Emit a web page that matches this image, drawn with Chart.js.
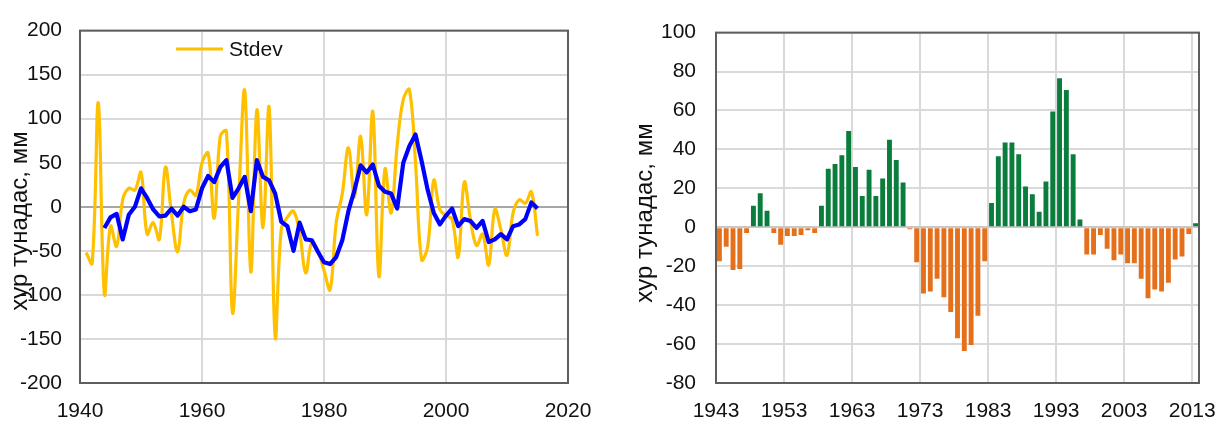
<!DOCTYPE html>
<html lang="mn">
<head>
<meta charset="utf-8">
<title>Хур тунадас</title>
<script src="https://cdn.jsdelivr.net/npm/chart.js@4.4.1/dist/chart.umd.min.js"></script>
<style>
  html, body { margin: 0; padding: 0; background: #ffffff; }
  #wrap { position: relative; width: 1223px; height: 421px; overflow: hidden; }
  #left { position: absolute; left: 0; top: 0; }
  #right { position: absolute; left: 600px; top: 0; }
</style>
</head>
<body>
<div id="wrap">
  <canvas id="left" width="600" height="421"></canvas>
  <canvas id="right" width="623" height="421"></canvas>
</div>
<script>
// ---- Left panel: annual anomaly (Stdev) and its running mean ----
const stdevYears = [
  1941, 1942, 1943, 1944, 1945, 1946, 1947, 1948, 1949, 1950,
  1951, 1952, 1953, 1954, 1955, 1956, 1957, 1958, 1959, 1960,
  1961, 1962, 1963, 1964, 1965, 1966, 1967, 1968, 1969, 1970,
  1971, 1972, 1973, 1974, 1975, 1976, 1977, 1978, 1979, 1980,
  1981, 1982, 1983, 1984, 1985, 1986, 1987, 1988, 1989, 1990,
  1991, 1992, 1993, 1994, 1995, 1996, 1997, 1998, 1999, 2000,
  2001, 2002, 2003, 2004, 2005, 2006, 2007, 2008, 2009, 2010,
  2011, 2012, 2013, 2014, 2015
];
const stdevValues = [
  -52, -64, 118, -99, -22, -45, 8, 21, 19, 39,
  -31, -18, -37, 45, -8, -51, 4, 19, 13, 50,
  61, -13, 80, 86, -120, 8, 132, -74, 110, -24,
  113, -148, -25, -12, -5, -29, -75, -40, -50, -72,
  -94, -18, 15, 67, 11, 80, -9, 108, -79, 43,
  -7, 70, 122, 133, 50, -60, -45, 30, -3, -10,
  -14, -57, 28, -14, -44, -31, -66, -3, -26, -55,
  -7, 8, 4, 17, -33
];
const meanYears = [
  1944, 1945, 1946, 1947, 1948, 1949, 1950, 1951, 1952, 1953,
  1954, 1955, 1956, 1957, 1958, 1959, 1960, 1961, 1962, 1963,
  1964, 1965, 1966, 1967, 1968, 1969, 1970, 1971, 1972, 1973,
  1974, 1975, 1976, 1977, 1978, 1979, 1980, 1981, 1982, 1983,
  1984, 1985, 1986, 1987, 1988, 1989, 1990, 1991, 1992, 1993,
  1994, 1995, 1996, 1997, 1998, 1999, 2000, 2001, 2002, 2003,
  2004, 2005, 2006, 2007, 2008, 2009, 2010, 2011, 2012, 2013,
  2014, 2015
];
const meanValues = [
  -24, -12, -8, -37, -9, 0, 21, 10, -3, -11,
  -10, -2, -10, 0, -5, -3, 21, 35, 28, 45,
  53, 10, 21, 34, -5, 53, 34, 30, 15, -17,
  -22, -50, -18, -37, -38, -51, -63, -65, -57, -38,
  -5, 19, 47, 39, 48, 24, 17, 15, -2, 50,
  69, 82, 52, 19, -7, -20, -10, -2, -22, -14,
  -16, -24, -16, -40, -37, -31, -37, -22, -20, -14,
  5, -2
];
const leftXTicks = [1940, 1960, 1980, 2000, 2020];
const leftYTicks = [-200, -150, -100, -50, 0, 50, 100, 150, 200];

// ---- Right panel: yearly bars ----
const barYears = [
  1943, 1944, 1945, 1946, 1947, 1948, 1949, 1950, 1951, 1952,
  1953, 1954, 1955, 1956, 1957, 1958, 1959, 1960, 1961, 1962,
  1963, 1964, 1965, 1966, 1967, 1968, 1969, 1970, 1971, 1972,
  1973, 1974, 1975, 1976, 1977, 1978, 1979, 1980, 1981, 1982,
  1983, 1984, 1985, 1986, 1987, 1988, 1989, 1990, 1991, 1992,
  1993, 1994, 1995, 1996, 1997, 1998, 1999, 2000, 2001, 2002,
  2003, 2004, 2005, 2006, 2007, 2008, 2009, 2010, 2011, 2012,
  2013
];
const barValues = [
  -17.5, -10, -22, -21.5, -3, 11, 17.5, 8.5, -3, -9,
  -4.5, -4.5, -4, -1.5, -3, 11, 30, 32.5, 37, 49.5,
  31, 16, 29.5, 16, 25, 45, 34.5, 23, -1, -18,
  -34, -33, -26.5, -36, -43.5, -57, -63.5, -60.5, -45.5, -17.5,
  12.5, 36.5, 43.5, 43.5, 37.5, 21, 17, 8, 23.5, 59.5,
  76.5, 70.5, 37.5, 4, -14, -14, -4, -11, -17, -14,
  -18.5, -18.5, -26.5, -36.5, -32, -33, -28.5, -16.5, -15, -3.5,
  2
];
const rightXTicks = [1943, 1953, 1963, 1973, 1983, 1993, 2003, 2013];
const rightYTicks = [-80, -60, -40, -20, 0, 20, 40, 60, 80, 100];

const axisTitle = 'хур тунадас, мм';
const legendLabel = 'Stdev';

const FONT = "'Liberation Sans', Arial, Helvetica, sans-serif";
const TEXT = '#111111';
const GRID = '#d9d9d9';
const FRAME = '#5e5e5e';
const YELLOW = '#ffc000';
const BLUE = '#0000ff';
const GREEN = '#0a7d3c';
const ORANGE = '#e5701c';

Chart.defaults.font.family = FONT;
Chart.defaults.color = TEXT;
Chart.defaults.animation = false;

// Frame round the plot area plus the rotated axis title
function framePlugin(titleX, titleY) {
  return {
    id: 'frame',
    afterDraw(chart) {
      const { ctx, chartArea: a } = chart;
      ctx.save();
      ctx.strokeStyle = FRAME;
      ctx.lineWidth = 2;
      ctx.strokeRect(a.left, a.top, a.right - a.left, a.bottom - a.top);
      ctx.translate(titleX, titleY);
      ctx.rotate(-Math.PI / 2);
      ctx.fillStyle = TEXT;
      ctx.font = '24px ' + FONT;
      ctx.textAlign = 'center';
      ctx.textBaseline = 'middle';
      ctx.fillText(axisTitle, 0, 0);
      ctx.restore();
    }
  };
}

// In-plot legend entry for the yellow series
const legendPlugin = {
  id: 'inplotLegend',
  afterDraw(chart) {
    const ds = chart.data.datasets.find(d => d.label === legendLabel);
    if (!ds) return;
    const { ctx } = chart;
    ctx.save();
    ctx.strokeStyle = ds.borderColor;
    ctx.lineWidth = ds.borderWidth;
    ctx.beginPath();
    ctx.moveTo(176, 49);
    ctx.lineTo(223, 49);
    ctx.stroke();
    ctx.fillStyle = TEXT;
    ctx.font = '21px ' + FONT;
    ctx.textAlign = 'left';
    ctx.textBaseline = 'middle';
    ctx.fillText(ds.label, 229, 50);
    ctx.restore();
  }
};

function fixedTicks(list) {
  return scale => { scale.ticks = list.map(v => ({ value: v })); };
}

// fixed axis band height; end labels may overhang the side margins
function fitXAxis(scale) {
  scale.height = 38;
  scale.paddingLeft = 0;
  scale.paddingRight = 0;
}

const zeroGrid = (zeroColor) => ctx => (ctx.tick && ctx.tick.value === 0 ? zeroColor : GRID);

new Chart(document.getElementById('left'), {
  type: 'line',
  data: {
    datasets: [
      {
        label: legendLabel,
        data: stdevYears.map((y, i) => ({ x: y, y: stdevValues[i] })),
        borderColor: YELLOW,
        borderWidth: 3.2,
        pointRadius: 0,
        tension: 0.38,
        fill: false,
        order: 1
      },
      {
        label: 'дундаж',
        data: meanYears.map((y, i) => ({ x: y, y: meanValues[i] })),
        borderColor: BLUE,
        borderWidth: 4.2,
        pointRadius: 0,
        tension: 0,
        borderJoinStyle: 'round',
        fill: false,
        order: 0
      }
    ]
  },
  options: {
    responsive: false,
    devicePixelRatio: 1,
    layout: { padding: { left: 0, top: 24, right: 32, bottom: 0 } },
    plugins: { legend: { display: false }, tooltip: { enabled: false } },
    scales: {
      x: {
        type: 'linear',
        min: 1940, max: 2020,
        afterBuildTicks: fixedTicks(leftXTicks),
        afterFit: fitXAxis,
        grid: { color: GRID, lineWidth: 2, drawTicks: false },
        border: { display: false },
        ticks: { font: { size: 21 }, padding: 16, maxRotation: 0, callback: v => String(v) }
      },
      y: {
        min: -200, max: 200,
        afterBuildTicks: fixedTicks(leftYTicks),
        afterFit: s => { s.width = 80; },
        grid: { color: zeroGrid('#a6a6a6'), lineWidth: 2, drawTicks: false },
        border: { display: false },
        ticks: { font: { size: 21 }, padding: 18, callback: v => String(v) }
      }
    }
  },
  plugins: [framePlugin(20, 221), legendPlugin]
});

new Chart(document.getElementById('right'), {
  type: 'bar',
  data: {
    datasets: [{
      label: 'хур тунадас',
      // each bar sits in the middle of its year slot
      data: barYears.map((y, i) => ({ x: y + 0.5, y: barValues[i] })),
      backgroundColor: barValues.map(v => (v >= 0 ? GREEN : ORANGE)),
      borderWidth: 0,
      barPercentage: 0.72,
      categoryPercentage: 1
    }]
  },
  options: {
    responsive: false,
    devicePixelRatio: 1,
    layout: { padding: { left: 0, top: 26, right: 24, bottom: 0 } },
    plugins: { legend: { display: false }, tooltip: { enabled: false } },
    scales: {
      x: {
        type: 'linear',
        min: 1943, max: 2014,
        offset: false,
        afterBuildTicks: fixedTicks(rightXTicks),
        afterFit: fitXAxis,
        grid: { color: GRID, lineWidth: 2, drawTicks: false, offset: false },
        border: { display: false },
        ticks: { font: { size: 21 }, padding: 16, maxRotation: 0, callback: v => String(v) }
      },
      y: {
        min: -80, max: 100,
        afterBuildTicks: fixedTicks(rightYTicks),
        afterFit: s => { s.width = 116; },
        grid: { color: zeroGrid('#c8c8c8'), lineWidth: 2, drawTicks: false },
        border: { display: false },
        ticks: { font: { size: 21 }, padding: 20, callback: v => String(v) }
      }
    }
  },
  plugins: [framePlugin(45, 213)]
});
</script>
</body>
</html>
